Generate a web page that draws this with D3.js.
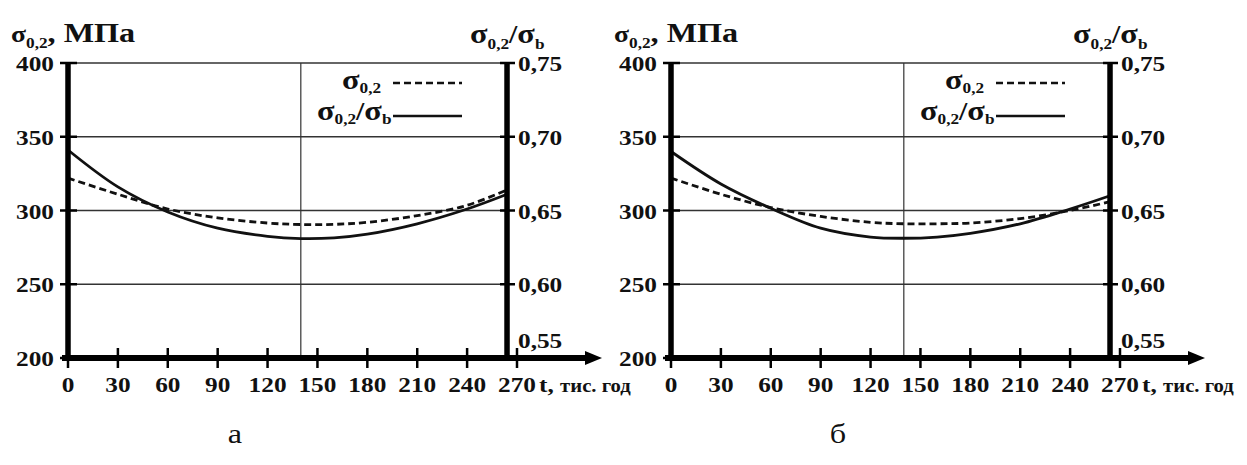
<!DOCTYPE html>
<html>
<head>
<meta charset="utf-8">
<script src="https://cdn.jsdelivr.net/npm/d3@7/dist/d3.min.js"></script>
<style>
body { margin: 0; background: #fff; }
</style>
</head>
<body>
<svg id="canvas" width="1247" height="465"></svg>
<script>
// time, thousand hours
var tValues = [0, 30, 60, 90, 120, 140, 160, 180, 210, 240, 264];

// panel a
var stressA = [322, 311, 301, 295, 291.5, 290.5, 290.6, 292, 296.5, 303.5, 314];
var ratioA = [0.691, 0.666, 0.649, 0.638, 0.6325, 0.631, 0.6315, 0.634, 0.641, 0.651, 0.661];

// panel b
var stressB = [322, 311, 302, 296, 292, 291, 291, 291.5, 294.5, 300, 306];
var ratioB = [0.690, 0.668, 0.6515, 0.638, 0.632, 0.6312, 0.632, 0.6345, 0.641, 0.651, 0.660];

var xTicks = [0, 30, 60, 90, 120, 150, 180, 210, 240, 270];
var leftTicks = [200, 250, 300, 350, 400];
var rightTicks = [0.55, 0.60, 0.65, 0.70, 0.75];
var panelLabels = ['а', 'б'];
var tMarker = 140;
var tEnd = 264;

var panels = [
    { stress: stressA, ratio: ratioA, label: panelLabels[0] },
    { stress: stressB, ratio: ratioB, label: panelLabels[1] }
];

var FONT = '"Liberation Serif", Tinos, "Times New Roman", "DejaVu Serif", serif';

var canvas = d3.select('#canvas');

var x = d3.scaleLinear().domain([0, 270]).range([68, 517]);
var yL = d3.scaleLinear().domain([200, 400]).range([358, 63]);
var yR = d3.scaleLinear().domain([0.55, 0.75]).range([358, 63]);

function comma(v) {
    return d3.format('.2f')(v).replace('.', ',');
}

function addText(parent, px, py, anchor) {
    return parent.append('text')
        .attr('transform', 'translate(' + px + ',' + py + ') scale(1.15,1)')
        .attr('text-anchor', anchor || 'start')
        .style('font-family', FONT)
        .style('font-weight', 'bold')
        .style('fill', '#111');
}

// parts: [text, fontSize, baseline offset]
function richText(parent, px, py, anchor, parts) {
    var t = addText(parent, px, py, anchor);
    var prev = 0;
    parts.forEach(function(p) {
        t.append('tspan')
            .style('font-size', p[1] + 'px')
            .attr('dy', (p[2] || 0) - prev)
            .text(p[0]);
        prev = p[2] || 0;
    });
    return t;
}

function drawPanel(g, d) {
    var xe = x(tEnd);

    // grid
    g.selectAll('.hgrid')
        .data(leftTicks.slice(1))
        .enter()
        .append('line')
        .attr('x1', x(0)).attr('x2', xe)
        .attr('y1', yL).attr('y2', yL)
        .attr('stroke', '#333')
        .attr('stroke-width', 1.3);

    g.append('line')
        .attr('x1', x(tMarker)).attr('x2', x(tMarker))
        .attr('y1', yL(400)).attr('y2', yL(200))
        .attr('stroke', '#333')
        .attr('stroke-width', 1.2);

    // curves
    var pts = tValues.map(function(t, i) {
        return { t: t, s: d.stress[i], r: d.ratio[i] };
    });

    var stressLine = d3.line()
        .x(function(p) { return x(p.t); })
        .y(function(p) { return yL(p.s); })
        .curve(d3.curveCatmullRom.alpha(0.5));

    var ratioLine = d3.line()
        .x(function(p) { return x(p.t); })
        .y(function(p) { return yR(p.r); })
        .curve(d3.curveCatmullRom.alpha(0.5));

    g.append('path')
        .attr('d', stressLine(pts))
        .attr('fill', 'none')
        .attr('stroke', '#111')
        .attr('stroke-width', 2.8)
        .attr('stroke-dasharray', '7,4');

    g.append('path')
        .attr('d', ratioLine(pts))
        .attr('fill', 'none')
        .attr('stroke', '#111')
        .attr('stroke-width', 2.8);

    // left axis
    g.append('line')
        .attr('x1', x(0)).attr('x2', x(0))
        .attr('y1', yL(400) - 1).attr('y2', yL(200))
        .attr('stroke', '#000').attr('stroke-width', 5.5);

    g.selectAll('.ltick')
        .data(leftTicks)
        .enter()
        .append('line')
        .attr('x1', x(0) - 8).attr('x2', x(0) + 9)
        .attr('y1', yL).attr('y2', yL)
        .attr('stroke', '#000').attr('stroke-width', 2.5);

    leftTicks.forEach(function(v) {
        addText(g, x(0) - 14, yL(v) + 8, 'end')
            .style('font-size', '22px')
            .text(v);
    });

    // right axis
    g.append('line')
        .attr('x1', xe).attr('x2', xe)
        .attr('y1', yR(0.75) - 1).attr('y2', yR(0.55))
        .attr('stroke', '#000').attr('stroke-width', 5.5);

    g.selectAll('.rtick')
        .data(rightTicks.slice(1))
        .enter()
        .append('line')
        .attr('x1', xe - 7).attr('x2', xe + 8)
        .attr('y1', yR).attr('y2', yR)
        .attr('stroke', '#000').attr('stroke-width', 2.5);

    rightTicks.forEach(function(v) {
        var py = v === 0.55 ? yR(v) - 10 : yR(v) + 8;
        addText(g, xe + 11, py, 'start')
            .style('font-size', '22px')
            .text(comma(v));
    });

    // bottom axis with arrow
    g.append('line')
        .attr('x1', x(0) - 6).attr('x2', 590)
        .attr('y1', yL(200)).attr('y2', yL(200))
        .attr('stroke', '#000').attr('stroke-width', 6);

    g.append('path')
        .attr('d', 'M585,' + (yL(200) - 7) + 'L602,' + yL(200) + 'L585,' + (yL(200) + 7) + 'Z')
        .attr('fill', '#000');

    g.selectAll('.xtick')
        .data(xTicks)
        .enter()
        .append('line')
        .attr('x1', x).attr('x2', x)
        .attr('y1', yL(200) - 10).attr('y2', yL(200) + 10)
        .attr('stroke', '#000').attr('stroke-width', 2.5);

    xTicks.forEach(function(v) {
        addText(g, x(v), 392, 'middle')
            .style('font-size', '22px')
            .text(v);
    });

    richText(g, 539, 392, 'start', [['t, ', 22], ['тис. год', 18]]);

    // axis titles
    richText(g, 11, 42, 'start', [['σ', 24], ['0,2', 15, 6], [', МПа', 28]]);
    richText(g, 470, 43, 'start', [['σ', 28], ['0,2', 15, 6], ['/', 26], ['σ', 28], ['b', 15, 6]]);

    // legend
    g.append('line')
        .attr('x1', 393).attr('x2', 462)
        .attr('y1', 83).attr('y2', 83)
        .attr('stroke', '#111').attr('stroke-width', 2.6)
        .attr('stroke-dasharray', '7,4');
    richText(g, 342, 89, 'start', [['σ', 28], ['0,2', 15, 4]]);

    g.append('line')
        .attr('x1', 393).attr('x2', 462)
        .attr('y1', 116).attr('y2', 116)
        .attr('stroke', '#111').attr('stroke-width', 2.6);
    richText(g, 317, 120, 'start', [['σ', 28], ['0,2', 15, 4], ['/', 26], ['σ', 28], ['b', 15, 4]]);

    // panel letter
    addText(g, 235, 443, 'middle')
        .style('font-size', '28px')
        .style('font-weight', 'normal')
        .text(d.label);
}

canvas.selectAll('g.panel')
    .data(panels)
    .enter()
    .append('g')
    .attr('class', 'panel')
    .attr('transform', function(d, i) { return 'translate(' + (i * 603) + ',0)'; })
    .each(function(d) { drawPanel(d3.select(this), d); });
</script>
</body>
</html>
